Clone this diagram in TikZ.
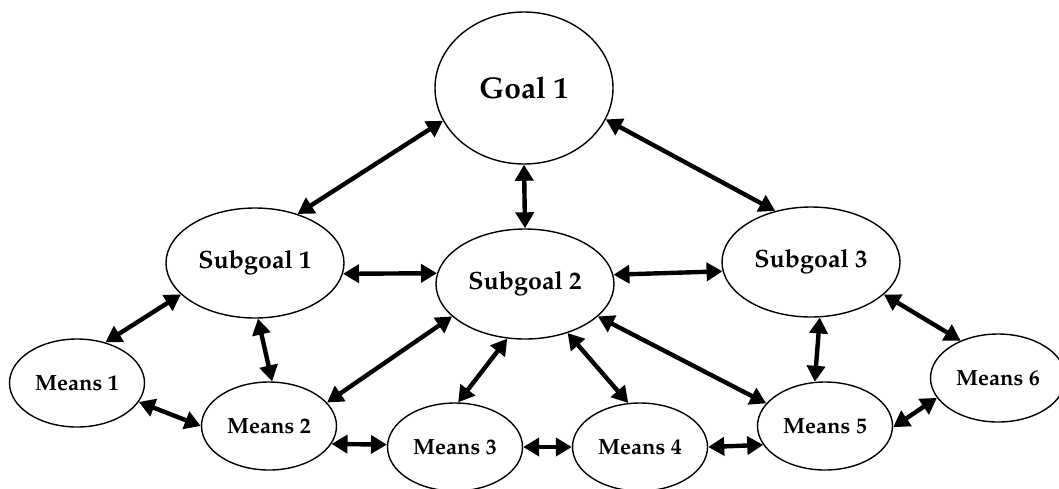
\documentclass[tikz,border=0pt]{standalone}
\usepackage[T1]{fontenc}
\renewcommand{\rmdefault}{ppl}
\usetikzlibrary{arrows.meta,shapes.geometric}

\tikzset{
    blob/.style={draw, ellipse, line width=1.4pt, inner sep=0pt, font=\bfseries},
    goalblob/.style={blob, minimum width=178pt, minimum height=152pt},
    subblob/.style={blob, minimum width=178pt, minimum height=110pt},
    meansblob/.style={blob, minimum width=135pt, minimum height=88pt},
    link/.style={{Triangle[length=16pt,width=18pt]}-{Triangle[length=16pt,width=18pt]}, line width=4.4pt}
}
\newcommand{\goalsize}{\fontsize{30}{36}\selectfont}
\newcommand{\subsize}{\fontsize{25}{30}\selectfont}
\newcommand{\meanssize}{\fontsize{22}{26}\selectfont}

\begin{document}
\begin{tikzpicture}[x=1pt, y=-1pt]
        \useasboundingbox (0,0) rectangle (1059,488);

        % Goal
        \node[goalblob] (goal) at (524,88) {\goalsize Goal 1};

        % Subgoals
        \node[subblob] (subone) at (255,263) {\subsize Subgoal 1};
        \node[subblob] (subtwo) at (525,284) {\subsize Subgoal 2};
        \node[subblob] (subthree) at (811,262) {\subsize Subgoal 3};

        % Means
        \node[meansblob] (meansone) at (77,383) {\meanssize Means 1};
        \node[meansblob] (meanstwo) at (269,426) {\meanssize Means 2};
        \node[meansblob] (meansthree) at (455,447) {\meanssize Means 3};
        \node[meansblob] (meansfour) at (640,447) {\meanssize Means 4};
        \node[meansblob] (meansfive) at (825,426) {\meanssize Means 5};
        \node[meansblob] (meanssix) at (998,378) {\meanssize Means 6};

        % Goal to subgoals
        \draw[link] (goal.202.8) -- (subone.49.5);
        \draw[link] (goal.south) -- (subtwo.north);
        \draw[link] (goal.339.5) -- (subthree.125.8);

        % Subgoal to subgoal
        \draw[link] (subone.353.7) -- (subtwo.173.4);
        \draw[link] (subtwo.6.5) -- (subthree.186.5);

        % Subgoals to means
        \draw[link] (subone.203.1) -- (meansone.55.4);
        \draw[link] (subone.273) -- (meanstwo.86);
        \draw[link] (subtwo.204) -- (meanstwo.22.1);
        \draw[link] (subtwo.252.5) -- (meansthree.86);
        \draw[link] (subtwo.311) -- (meansfour.105);
        \draw[link] (subtwo.336.3) -- (meansfive.159.6);
        \draw[link] (subthree.279.3) -- (meansfive.103);
        \draw[link] (subthree.336) -- (meanssix.135.7);

        % Means to means
        \draw[link] (meansone.343.6) -- (meanstwo.180);
        \draw[link] (meanstwo.344.6) -- (meansthree.178);
        \draw[link] (meansthree.0) -- (meansfour.180);
        \draw[link] (meansfour.0) -- (meansfive.197);
        \draw[link] (meansfive.359) -- (meanssix.198.2);
    \end{tikzpicture}
\end{document}
